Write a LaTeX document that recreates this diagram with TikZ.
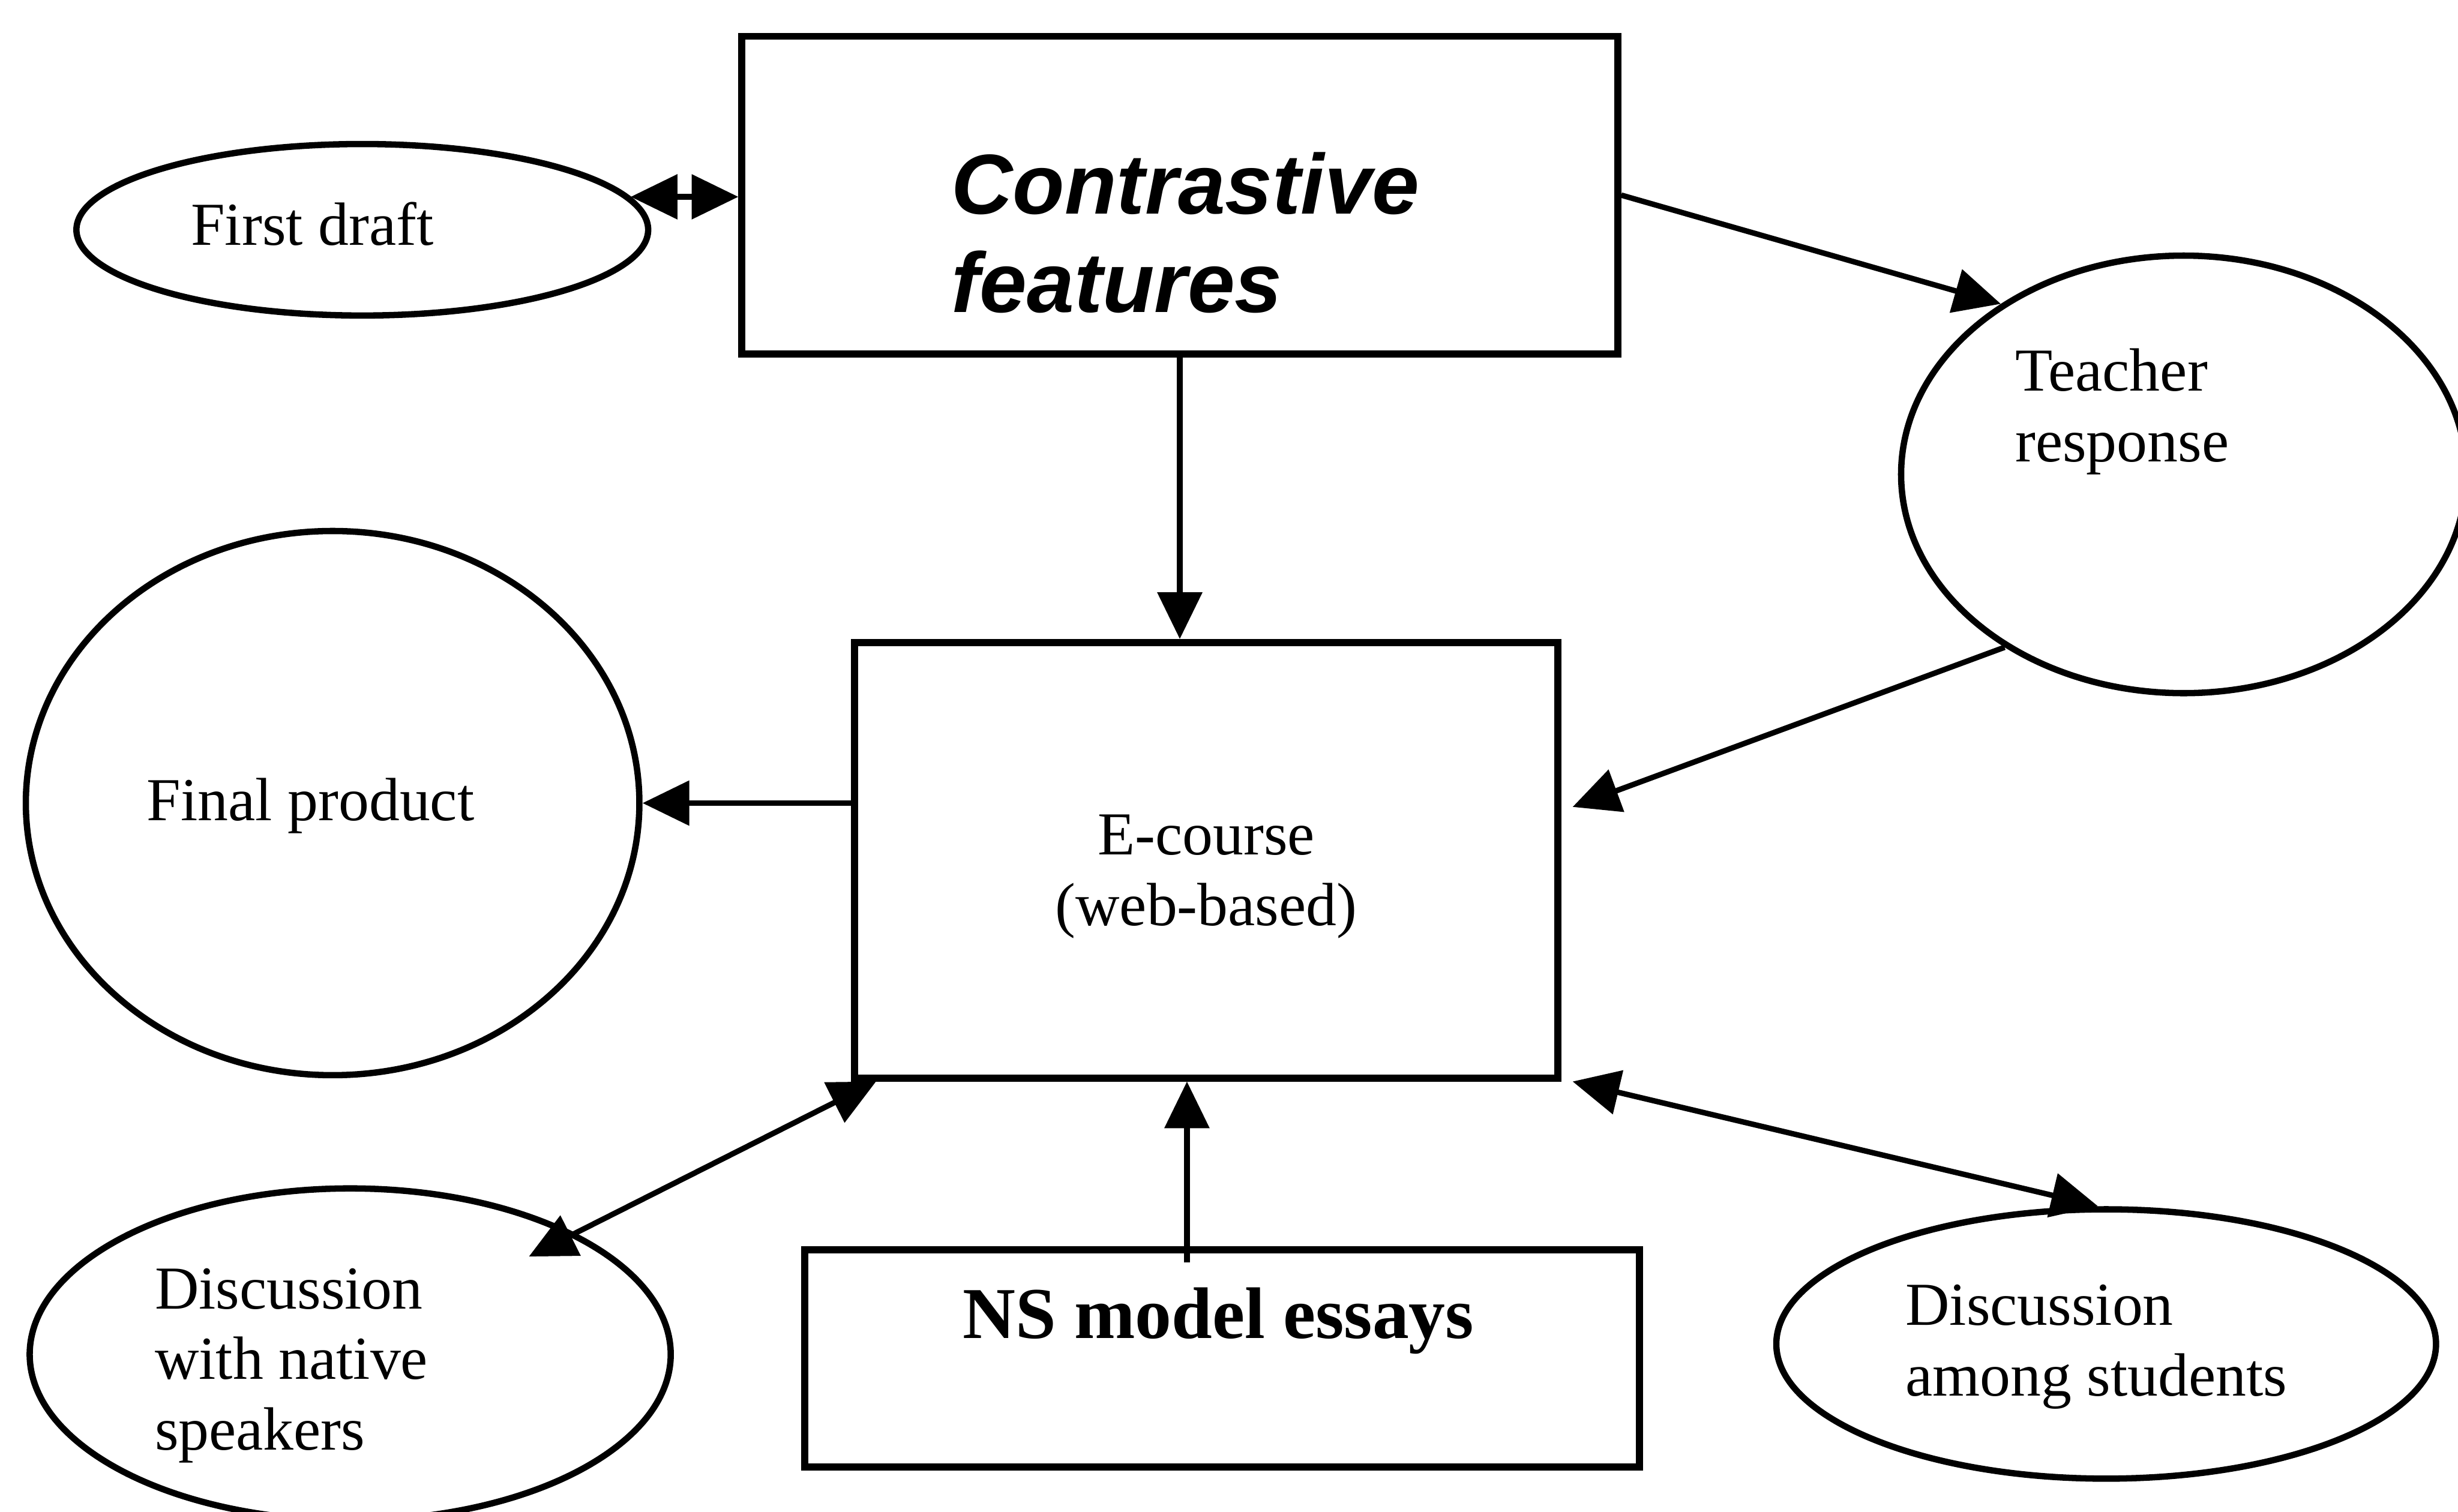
\documentclass[tikz,border=0pt]{standalone}
\usepackage{fontspec}
\setmainfont{Liberation Serif}
\newfontfamily\cfsans{Liberation Sans}
\usetikzlibrary{arrows.meta,shapes.geometric}

\begin{document}
\begin{tikzpicture}[line width=1mm,>={Triangle[length=8.5mm,width=8mm]},
  boxs/.style={draw,line width=1.3mm,inner sep=0pt},
  ells/.style={draw,ellipse,line width=1.15mm,inner sep=0pt},
  lbl/.style={inner sep=0pt,align=left,font=\fontsize{31.6}{36.5}\selectfont}]
  \clip (0,0) rectangle (44.71,-27.5);
  % boxes
  \node[boxs,minimum width=15.93cm,minimum height=5.78cm] (contr) at (21.46,-3.55) {};
  \node[boxs,minimum width=12.8cm,minimum height=7.92cm] (ecourse) at (21.94,-15.65) {};
  \node[boxs,minimum width=15.19cm,minimum height=3.95cm] (nsbox) at (22.23,-24.71) {};
  % ellipses
  \node[ells,minimum width=10.4cm,minimum height=3.12cm] (firstd) at (6.59,-4.18) {};
  \node[ells,minimum width=10.28cm,minimum height=7.96cm] (teacher) at (39.72,-8.63) {};
  \node[ells,minimum width=11.16cm,minimum height=9.9cm] (final) at (6.05,-14.61) {};
  \node[ells,minimum width=11.66cm,minimum height=6.04cm] (native) at (6.37,-24.64) {};
  \node[ells,minimum width=12cm,minimum height=4.9cm] (students) at (38.31,-24.45) {};
  % texts
  \node[lbl,font=\cfsans\bfseries\itshape\fontsize{44}{51}\selectfont] (contr-t) at ([shift={(0.1,-0.68)}]contr) {Contrastive\\features};
  \node[lbl,align=center] (ecourse-t) at ([yshift=-0.3cm]ecourse) {E-course\\(web-based)};
  \node[lbl,font=\bfseries\fontsize{37.8}{42}\selectfont] (ns-t) at ([shift={(-0.07,0.68)}]nsbox) {NS model essays};
  \node[lbl] (firstd-t) at ([shift={(-0.91,0.11)}]firstd) {First draft};
  \node[lbl] (teacher-t) at ([shift={(-1.12,1.14)}]teacher) {Teacher\\response};
  \node[lbl] (final-t) at ([shift={(-0.4,-0.05)}]final) {Final product};
  \node[lbl] (native-t) at ([shift={(-1.07,-0.2)}]native) {Discussion\\with native\\speakers};
  \node[lbl] (students-t) at ([shift={(-0.18,-0.05)}]students) {Discussion\\among students};
  % connectors
  \draw[<->] (firstd.7) -- (firstd.7 -| contr.west);
  \draw[->] (contr.east) -- (teacher.137);
  \draw[->] (contr.south) -- (contr.south |- ecourse.north);
  \draw[->] (teacher.224) -- ([shift={(0.2,0.97)}]ecourse.east);
  \draw[->] (final.east -| ecourse.west) -- (final.east);
  \draw[<->] ([xshift=0.46cm]ecourse.south west) -- ([shift={(3.25,1.78)}]native.center);
  \draw[->] ([shift={(-0.64,-0.3)}]nsbox.north) -- ([xshift=-0.64cm]nsbox.north |- ecourse.south);
  \draw[<->] ([xshift=0.2cm]ecourse.south east) -- ([xshift=-0.15cm]students.north);
\end{tikzpicture}
\end{document}
